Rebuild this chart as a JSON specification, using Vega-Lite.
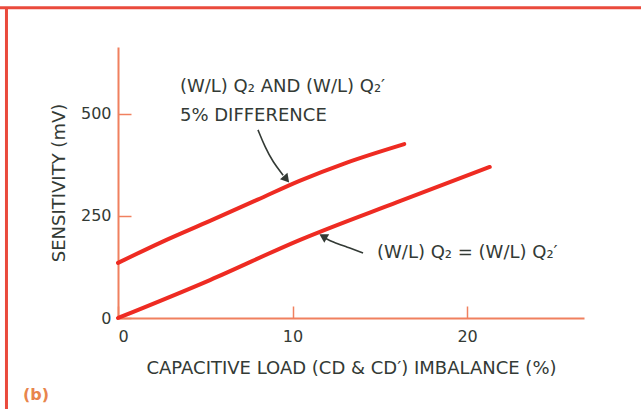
{
  "$schema": "https://vega.github.io/schema/vega-lite/v6.json",
  "width": 466,
  "height": 271,
  "autosize": "none",
  "padding": {"left": 118, "top": 47, "right": 57, "bottom": 91},
  "background": "white",
  "config": {
    "view": {"stroke": null},
    "font": "DejaVu Sans",
    "axis": {
      "domainColor": "#f0805f",
      "domainWidth": 2,
      "tickColor": "#f0805f",
      "tickWidth": 1.5,
      "grid": false,
      "labelFont": "DejaVu Sans",
      "labelFontSize": 16,
      "labelColor": "#333a35",
      "titleFont": "DejaVu Sans",
      "titleFontSize": 18,
      "titleFontWeight": "normal",
      "titleColor": "#333a35"
    }
  },
  "datasets": {
    "curves": [
      {"series": "5% difference", "imbalance": 0, "sensitivity": 135},
      {"series": "5% difference", "imbalance": 2.5, "sensitivity": 186},
      {"series": "5% difference", "imbalance": 5.27, "sensitivity": 238},
      {"series": "5% difference", "imbalance": 8, "sensitivity": 290},
      {"series": "5% difference", "imbalance": 10.4, "sensitivity": 336},
      {"series": "5% difference", "imbalance": 13, "sensitivity": 379},
      {"series": "5% difference", "imbalance": 16.4, "sensitivity": 426},
      {"series": "equal", "imbalance": 0, "sensitivity": 0},
      {"series": "equal", "imbalance": 5.27, "sensitivity": 93},
      {"series": "equal", "imbalance": 10.4, "sensitivity": 191},
      {"series": "equal", "imbalance": 16, "sensitivity": 284},
      {"series": "equal", "imbalance": 21.3, "sensitivity": 370}
    ],
    "arrows": [
      {"arrow": "upper", "order": 1, "imbalance": 8.02, "sensitivity": 461},
      {"arrow": "upper", "order": 2, "imbalance": 8.42, "sensitivity": 419},
      {"arrow": "upper", "order": 3, "imbalance": 8.88, "sensitivity": 382},
      {"arrow": "upper", "order": 4, "imbalance": 9.46, "sensitivity": 350},
      {"arrow": "lower", "order": 1, "imbalance": 14.04, "sensitivity": 159},
      {"arrow": "lower", "order": 2, "imbalance": 13.12, "sensitivity": 174},
      {"arrow": "lower", "order": 3, "imbalance": 12.32, "sensitivity": 186},
      {"arrow": "lower", "order": 4, "imbalance": 11.86, "sensitivity": 196}
    ],
    "heads": [
      {"arrow": "upper", "imbalance": 9.65, "sensitivity": 340},
      {"arrow": "lower", "imbalance": 11.75, "sensitivity": 200}
    ],
    "labels": [
      {"label": "(W/L) Q₂ AND (W/L) Q₂′", "imbalance": 3.55, "sensitivity": 566},
      {"label": "5% DIFFERENCE", "imbalance": 3.55, "sensitivity": 495},
      {"label": "(W/L) Q₂ = (W/L) Q₂′", "imbalance": 14.84, "sensitivity": 159}
    ],
    "panel": [
      {"label": "(b)", "imbalance": -5.44, "sensitivity": -189}
    ],
    "border": [
      {"edge": "top", "x1": -6.8, "x2": 30.2, "y1": 760, "y2": 760},
      {"edge": "left", "x1": -6.39, "x2": -6.39, "y1": -225, "y2": 762}
    ]
  },
  "layer": [
    {
      "data": {"name": "border"},
      "mark": {"type": "rule", "color": "#ea4a3c", "strokeWidth": 3},
      "encoding": {
        "x": {"field": "x1", "type": "quantitative", "scale": {"domain": [0, 26.7], "nice": false}},
        "x2": {"field": "x2"},
        "y": {"field": "y1", "type": "quantitative", "scale": {"domain": [0, 664], "nice": false}},
        "y2": {"field": "y2"}
      }
    },
    {
      "data": {"name": "curves"},
      "mark": {"type": "line", "color": "#ee2b22", "strokeWidth": 4, "strokeCap": "round", "interpolate": "monotone"},
      "encoding": {
        "x": {
          "field": "imbalance", "type": "quantitative",
          "scale": {"domain": [0, 26.7], "nice": false},
          "axis": {
            "values": [0, 10, 20],
            "title": "CAPACITIVE LOAD (CD & CD′) IMBALANCE (%)",
            "tickSize": -12,
            "labelPadding": 22,
            "titlePadding": 15
          }
        },
        "y": {
          "field": "sensitivity", "type": "quantitative",
          "scale": {"domain": [0, 664], "nice": false},
          "axis": {
            "values": [0, 250, 500],
            "title": "SENSITIVITY (mV)",
            "tickSize": -13,
            "labelPadding": 20,
            "titlePadding": 12
          }
        },
        "detail": {"field": "series"}
      }
    },
    {
      "data": {"name": "arrows"},
      "mark": {"type": "line", "color": "#333a35", "strokeWidth": 1.6, "interpolate": "basis"},
      "encoding": {
        "x": {"field": "imbalance", "type": "quantitative"},
        "y": {"field": "sensitivity", "type": "quantitative"},
        "detail": {"field": "arrow"},
        "order": {"field": "order"}
      }
    },
    {
      "data": {"name": "heads"},
      "transform": [{"filter": "datum.arrow === 'upper'"}],
      "mark": {"type": "point", "shape": "triangle-down", "filled": true, "color": "#333a35", "size": 95, "angle": 320, "opacity": 1},
      "encoding": {
        "x": {"field": "imbalance", "type": "quantitative"},
        "y": {"field": "sensitivity", "type": "quantitative"}
      }
    },
    {
      "data": {"name": "heads"},
      "transform": [{"filter": "datum.arrow === 'lower'"}],
      "mark": {"type": "point", "shape": "triangle-down", "filled": true, "color": "#333a35", "size": 95, "angle": 120, "opacity": 1},
      "encoding": {
        "x": {"field": "imbalance", "type": "quantitative"},
        "y": {"field": "sensitivity", "type": "quantitative"}
      }
    },
    {
      "data": {"name": "labels"},
      "mark": {"type": "text", "align": "left", "baseline": "middle", "font": "DejaVu Sans", "fontSize": 18, "color": "#333a35"},
      "encoding": {
        "x": {"field": "imbalance", "type": "quantitative"},
        "y": {"field": "sensitivity", "type": "quantitative"},
        "text": {"field": "label"}
      }
    },
    {
      "data": {"name": "panel"},
      "mark": {"type": "text", "align": "left", "baseline": "middle", "font": "DejaVu Sans", "fontSize": 16, "fontWeight": "bold", "color": "#e8854c"},
      "encoding": {
        "x": {"field": "imbalance", "type": "quantitative"},
        "y": {"field": "sensitivity", "type": "quantitative"},
        "text": {"field": "label"}
      }
    }
  ]
}
